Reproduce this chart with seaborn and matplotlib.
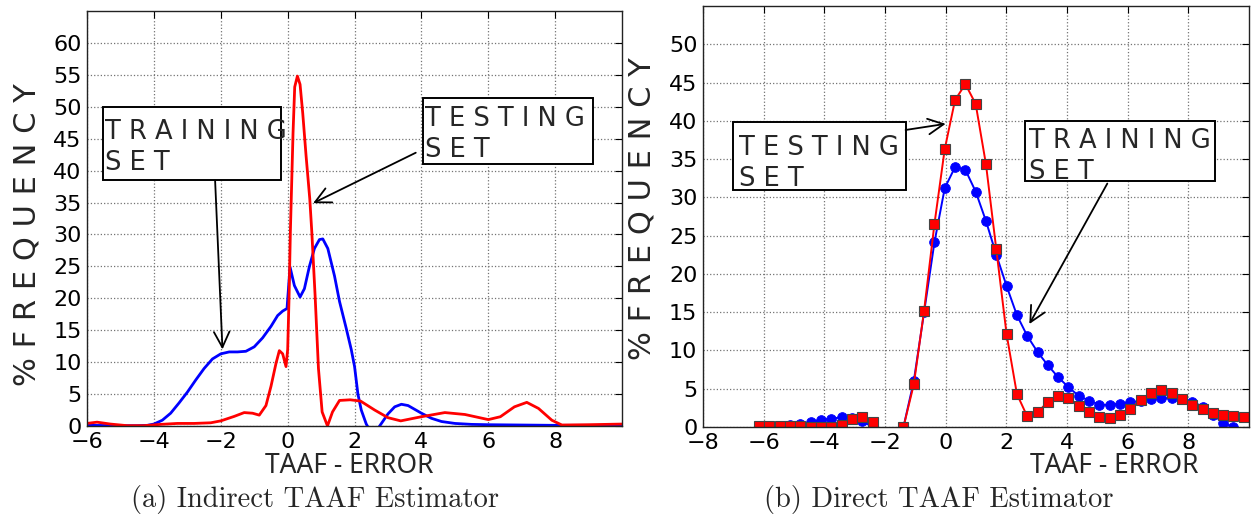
import numpy as np
import pandas as pd
import matplotlib
matplotlib.use("Agg")
import matplotlib.pyplot as plt
from matplotlib.patches import Rectangle
import seaborn as sns

# ---- (a) Indirect estimator: smoothed error distributions ----
indirect_train_x = [-6.0, -5.0, -4.5, -4.2, -4.0, -3.75, -3.5, -3.25, -3.0, -2.75,
                    -2.5, -2.25, -2.0, -1.75, -1.5, -1.25, -1.0, -0.75, -0.5, -0.3,
                    -0.15, -0.02, 0.07, 0.2, 0.37, 0.5, 0.65, 0.8, 0.95, 1.05,
                    1.2, 1.4, 1.55, 1.75, 1.9, 2.0, 2.1, 2.2, 2.35, 2.55,
                    2.75, 3.0, 3.2, 3.4, 3.6, 3.8, 4.0, 4.3, 4.6, 5.0,
                    5.5, 6.0, 7.0, 8.0, 10.0]
indirect_train_y = [0.1, 0.05, 0.05, 0.1, 0.3, 0.9, 2.0, 3.6, 5.3, 7.2,
                    9.0, 10.5, 11.3, 11.6, 11.6, 11.7, 12.4, 13.8, 15.6, 17.3,
                    18.0, 18.4, 24.9, 22.0, 20.2, 21.5, 25.0, 27.8, 29.2, 29.3,
                    27.8, 23.5, 19.5, 15.3, 12.0, 9.3, 5.0, 2.5, 0.3, -1.5,
                    0.0, 1.9, 3.0, 3.4, 3.2, 2.6, 2.0, 1.2, 0.7, 0.4,
                    0.25, 0.2, 0.15, 0.1, 0.1]

indirect_test_x = [-6.0, -5.7, -5.3, -4.8, -4.3, -3.8, -3.3, -2.8, -2.3, -2.0,
                   -1.6, -1.3, -1.05, -0.85, -0.65, -0.5, -0.35, -0.25, -0.15, -0.05,
                   0.0, 0.04, 0.08, 0.16, 0.21, 0.29, 0.37, 0.45, 0.55, 0.66,
                   0.72, 0.82, 0.92, 1.03, 1.19, 1.34, 1.55, 1.87, 2.18, 2.6,
                   3.0, 3.38, 4.0, 4.7, 5.3, 6.0, 6.36, 6.78, 7.15, 7.5,
                   7.9, 8.2, 9.0, 10.0]
indirect_test_y = [0.4, 0.6, 0.3, 0.05, 0.05, 0.25, 0.4, 0.4, 0.5, 0.8,
                   1.5, 2.1, 2.0, 1.7, 3.2, 6.2, 9.8, 11.8, 11.3, 9.3,
                   12.0, 20.0, 30.4, 45.9, 53.1, 54.8, 53.5, 49.0, 42.3, 35.6,
                   30.5, 20.4, 9.0, 2.2, 0.0, 2.2, 4.0, 4.1, 3.9, 2.5,
                   1.3, 0.8, 1.45, 2.1, 1.8, 1.0, 1.45, 3.0, 3.7, 2.75,
                   0.9, 0.15, 0.2, 0.3]

# ---- (b) Direct estimator: binned error distributions ----
direct_x = [-6.15, -5.81, -5.47, -5.13, -4.79, -4.45, -4.11, -3.77, -3.43, -3.09,
            -2.75, -2.41, -2.07, -1.73, -1.39, -1.05, -0.71, -0.37, -0.03, 0.31,
            0.65, 0.99, 1.33, 1.67, 2.01, 2.35, 2.69, 3.03, 3.37, 3.71,
            4.05, 4.39, 4.73, 5.07, 5.41, 5.75, 6.09, 6.43, 6.77, 7.11,
            7.45, 7.79, 8.13, 8.47, 8.81, 9.15, 9.49, 9.83]
direct_train_y = [0.13, 0.13, 0.17, 0.2, 0.4, 0.6, 0.94, 1.1, 1.25, 1.2,
                  0.77, 0.0, np.nan, np.nan, 0.0, 6.0, 15.0, 24.1, 31.2, 33.95,
                  33.6, 30.75, 26.9, 22.5, 18.4, 14.6, 11.9, 9.8, 8.06, 6.5,
                  5.2, 4.05, 3.45, 2.9, 2.9, 3.06, 3.2, 3.45, 3.66, 3.75,
                  3.75, 3.6, 3.3, 2.67, 1.6, 0.56, 0.0, np.nan]
direct_test_y = [0.1, 0.1, 0.15, 0.15, 0.1, 0.04, 0.02, 0.02, 0.3, 1.07,
                 1.33, 0.7, np.nan, np.nan, 0.0, 5.56, 15.2, 26.5, 36.3, 42.7,
                 44.8, 42.2, 34.3, 23.2, 12.1, 4.3, 1.38, 1.9, 3.3, 4.05,
                 3.75, 2.8, 1.94, 1.34, 1.16, 1.6, 2.37, 3.53, 4.5, 4.87,
                 4.4, 3.7, 2.84, 2.33, 1.8, 1.6, 1.47, 1.3]

# ---- ticks and text ----
xticks_a = [-6, -4, -2, 0, 2, 4, 6, 8]
xticks_b = [-8, -6, -4, -2, 0, 2, 4, 6, 8]
yticks_a = [0, 5, 10, 15, 20, 25, 30, 35, 40, 45, 50, 55, 60]
yticks_b = [0, 5, 10, 15, 20, 25, 30, 35, 40, 45, 50]
ylabel_text = "% F R E Q U E N C Y"
xlabel_text = "TAAF - ERROR"
training_text = "T R A I N I N G\nS E T"
testing_text = "T E S T I N G\nS E T"
caption_a = "(a) Indirect TAAF Estimator"
caption_b = "(b) Direct TAAF Estimator"

sns.set_style("white")
plt.rcParams["font.family"] = ["DejaVu Sans"]

BOX_FS = 18.5          # callout text size, points
PX_PER_PT = 100 / 72.0


def as_frame(x, y):
    """Split a series at missing values so each run is drawn as its own line."""
    df = pd.DataFrame({"x": x, "y": y})
    df["run"] = df["y"].isna().cumsum()
    return df.dropna()


fig = plt.figure(figsize=(12.56, 5.23), dpi=100)
ax_a = fig.add_axes([0.0693, 0.1855, 0.426, 0.7935])
ax_b = fig.add_axes([0.5597, 0.1836, 0.4347, 0.805])

# (a) smooth curves
sns.lineplot(data=pd.DataFrame({"x": indirect_train_x, "y": indirect_train_y}),
             x="x", y="y", color="blue", lw=2.0, ax=ax_a, estimator=None, sort=False)
sns.lineplot(data=pd.DataFrame({"x": indirect_test_x, "y": indirect_test_y}),
             x="x", y="y", color="red", lw=2.0, ax=ax_a, estimator=None, sort=False)

# (b) binned curves with markers
sns.lineplot(data=as_frame(direct_x, direct_train_y), x="x", y="y", units="run",
             estimator=None, sort=False, color="blue", lw=1.4, marker="o",
             markersize=7, markeredgecolor="blue", markeredgewidth=0.6, ax=ax_b)
sns.lineplot(data=as_frame(direct_x, direct_test_y), x="x", y="y", units="run",
             estimator=None, sort=False, color="red", lw=1.4, marker="s",
             markersize=7, markeredgecolor="#444444", markeredgewidth=0.8, ax=ax_b)

for ax, xt, yt, xlim, ylim in [(ax_a, xticks_a, yticks_a, (-6, 10), (0, 65)),
                               (ax_b, xticks_b, yticks_b, (-8, 10), (0, 55))]:
    ax.set_xlim(*xlim)
    ax.set_ylim(*ylim)
    ax.set_xticks(xt)
    ax.set_yticks(yt)
    ax.grid(True, linestyle=":", color="0.45", linewidth=0.9)
    ax.tick_params(direction="in", length=5, width=0.8, top=True, right=True,
                   labelsize=16, colors="black", pad=4)
    for s in ax.spines.values():
        s.set_color("#222222")
        s.set_linewidth(1.0)
    ax.set_ylabel(ylabel_text, fontsize=22, va="center")
    ax.set_xlabel(xlabel_text, fontsize=19, va="center", family=["Noto Sans"])

ax_a.yaxis.set_label_coords(-0.112, 0.46)
ax_b.yaxis.set_label_coords(-0.112, 0.518)
ax_a.xaxis.set_label_coords(0.49, -0.096)
ax_b.xaxis.set_label_coords(0.753, -0.093)

arrow = dict(arrowstyle="->", color="black", lw=1.3, mutation_scale=28,
             shrinkA=0, shrinkB=0)


def callout(ax, text, box, text_x, first_baseline, start, tip):
    """White framed label with an open-headed arrow pointing at a curve."""
    (x0, x1), (y0, y1) = box
    ax.add_patch(Rectangle((x0, y0), x1 - x0, y1 - y0, fc="white", ec="black",
                           lw=1.4, zorder=4))
    # pixels per data unit on the y axis
    ppu = ax.bbox.height / (ax.get_ylim()[1] - ax.get_ylim()[0])
    top = first_baseline + 0.76 * BOX_FS * PX_PER_PT / ppu
    ax.text(text_x, top, text, ha="left", va="top", fontsize=BOX_FS,
            linespacing=1.25, zorder=5)
    ax.annotate("", xy=tip, xytext=start, arrowprops=arrow, zorder=5)


callout(ax_a, training_text, ((-5.51, -0.2), (38.6, 50.0)), -5.45, 45.05,
        (-2.17, 38.4), (-1.95, 12.0))
callout(ax_a, testing_text, ((4.04, 9.13), (41.06, 51.3)), 4.11, 47.1,
        (3.83, 42.8), (0.76, 34.9))
callout(ax_b, testing_text, ((-7.02, -1.32), (30.9, 39.8)), -6.82, 35.65,
        (-1.32, 38.8), (0.0, 39.6))
callout(ax_b, training_text, ((2.61, 8.88), (32.1, 39.96)), 2.74, 36.5,
        (5.33, 31.8), (2.76, 13.45))

fig.text(315 / 1256, 1 - 500 / 523, caption_a, family="cmr10", fontsize=20.5,
         ha="center", va="center")
fig.text(939 / 1256, 1 - 500 / 523, caption_b, family="cmr10", fontsize=20.5,
         ha="center", va="center")

fig.savefig("out.png", dpi=100)
